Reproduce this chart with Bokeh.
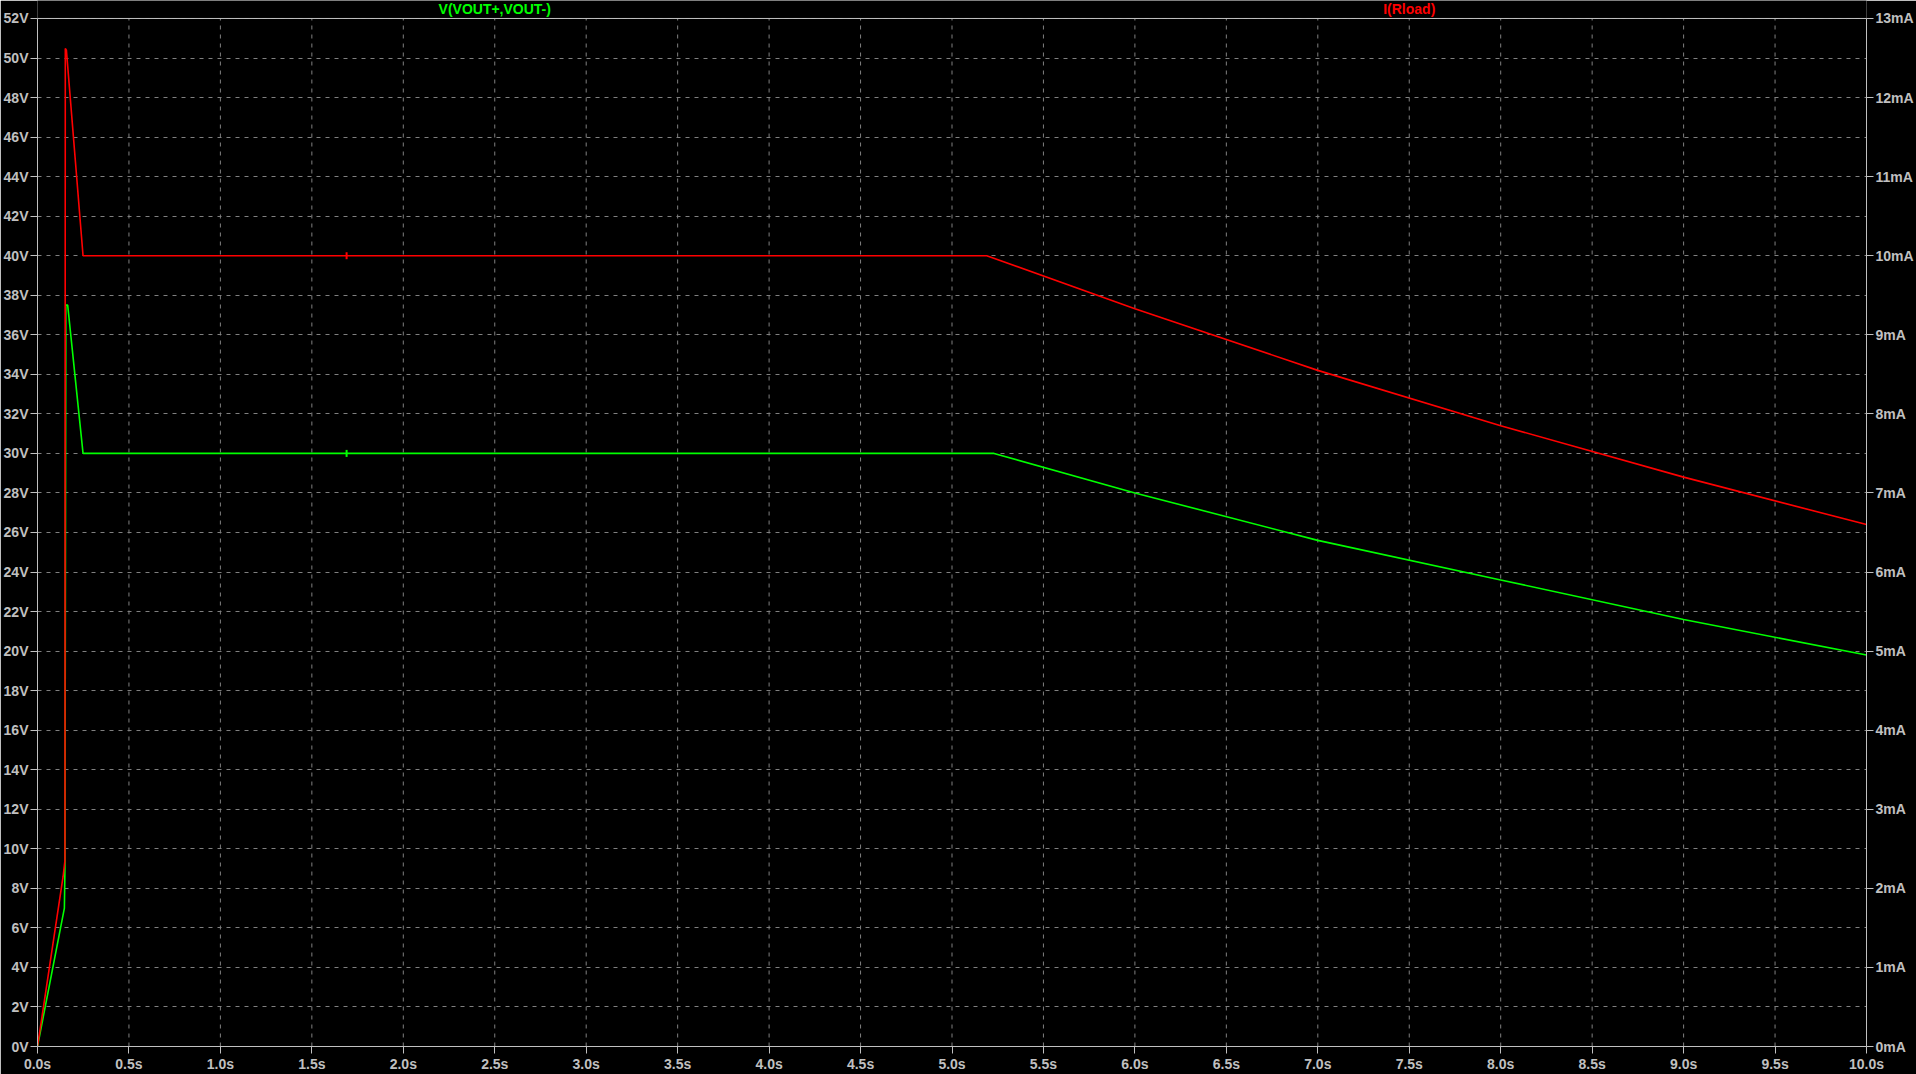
import math
from bokeh.plotting import figure
from bokeh.models import (Range1d, LinearAxis, FixedTicker, PrintfTickFormatter, Label, Span)
from bokeh.embed import file_html
from bokeh.resources import INLINE

# ---- data ----
# V(VOUT+,VOUT-) in volts
t_v = [0.0, 0.147, 0.150, 0.155, 0.165, 0.249, 5.23, 6.0, 7.0, 8.0, 9.0, 10.0]
v_out = [0.0, 7.0, 9.0, 37.5, 37.5, 30.0, 30.0, 28.0, 25.6, 23.6, 21.6, 19.8]
# I(Rload) in mA
t_i = [0.0, 0.140, 0.150, 0.152, 0.158, 0.249, 5.19, 6.0, 7.0, 8.0, 9.0, 10.0]
i_load = [0.0, 2.15, 2.35, 12.62, 12.6, 10.0, 10.0, 9.33, 8.55, 7.85, 7.2, 6.6]
# small markers on the traces
mark_t = [1.69]
mark_v = [30.0]
mark_i = [10.0]

x_ticks = [i * 0.5 for i in range(21)]
v_ticks = list(range(0, 53, 2))
i_ticks = list(range(0, 14))

titles = ["V(VOUT+,VOUT-)", "I(Rload)"]
title_x = [2.5, 7.5]
title_colors = ["#00ff00", "#ff0000"]

V_MAX = 52.0
I_MAX = 13.0
# headroom above the plot box (inside the canvas frame) for the trace titles
HEAD = 0.909
V_TOP = V_MAX + HEAD
I_TOP = I_MAX * V_TOP / V_MAX

AX = "#c0c0c0"
FONT = "Liberation Sans"

p = figure(width=1916, height=1074, x_range=Range1d(0, 10), y_range=Range1d(0, V_TOP),
           output_backend="svg", toolbar_location=None,
           background_fill_color="black", border_fill_color="black",
           outline_line_color=None,
           min_border_top=0, min_border_left=32, min_border_right=48, min_border_bottom=26)

p.extra_y_ranges = {"mA": Range1d(0, I_TOP)}


def style_axis(ax):
    ax.axis_line_color = AX
    ax.major_tick_line_color = AX
    ax.major_tick_out = 7
    ax.major_tick_in = 0
    ax.minor_tick_line_color = None
    ax.major_label_text_color = AX
    ax.major_label_text_font = FONT
    ax.major_label_text_font_size = "14px"
    ax.major_label_text_font_style = "bold"
    ax.major_label_standoff = 2


xa = p.below[0]
xa.ticker = FixedTicker(ticks=x_ticks)
xa.formatter = PrintfTickFormatter(format="%.1fs")
style_axis(xa)

ya = p.left[0]
ya.ticker = FixedTicker(ticks=v_ticks)
ya.formatter = PrintfTickFormatter(format="%dV")
ya.bounds = (0, V_MAX)
style_axis(ya)

ra = LinearAxis(y_range_name="mA", ticker=FixedTicker(ticks=i_ticks),
                formatter=PrintfTickFormatter(format="%dmA"), bounds=(0, I_MAX))
style_axis(ra)
p.add_layout(ra, "right")

# grid
p.xgrid.visible = False
p.ygrid.ticker = FixedTicker(ticks=v_ticks)
p.ygrid.grid_line_color = "#808080"
p.ygrid.grid_line_dash = "4 5"
p.ygrid.grid_line_width = 1
p.segment(x0=x_ticks, y0=[0] * len(x_ticks), x1=x_ticks, y1=[V_MAX] * len(x_ticks),
          line_color="#808080", line_dash="4 5", line_width=1)

# top border of the plot box
p.add_layout(Span(location=V_MAX, dimension="width", line_color=AX, line_width=1))

p.line(t_v, v_out, line_color="#00ff00", line_width=1.6)
p.line(t_i, i_load, line_color="#ff0000", line_width=1.6, y_range_name="mA")
p.scatter(mark_t, mark_v, marker="dash", angle=math.pi / 2, size=7,
          line_color="#00ff00", line_width=2)
p.scatter(mark_t, mark_i, marker="dash", angle=math.pi / 2, size=7,
          line_color="#ff0000", line_width=2, y_range_name="mA")

for xpos, txt, col in zip(title_x, titles, title_colors):
    p.add_layout(Label(x=xpos, y=V_MAX + 0.5, text=txt, text_color=col, text_font=FONT,
                       text_font_size="14px", text_font_style="bold",
                       text_align="center", text_baseline="alphabetic"))

open("out.html", "w").write(file_html(p, INLINE))
